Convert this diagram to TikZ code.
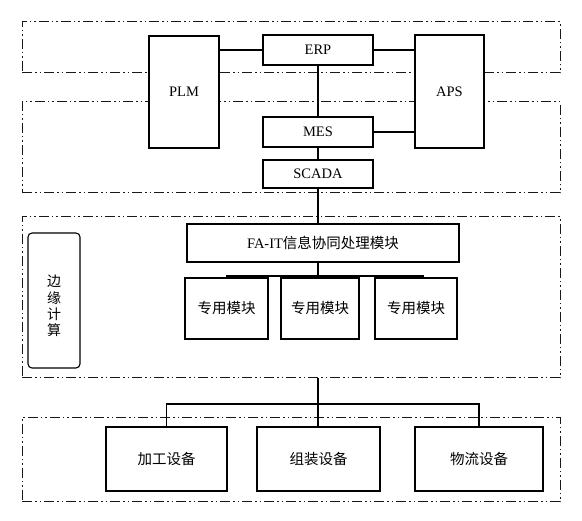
\documentclass[tikz,border=0pt]{standalone}
\usepackage{fontspec}
\setmainfont{Liberation Serif}
\newfontfamily\cjk{Noto Sans CJK SC}
\begin{document}
\begin{tikzpicture}[x=1pt,y=-1pt,
  box/.style={draw, line width=1.1pt, fill=white, inner sep=0pt, outer sep=0pt, font=\fontsize{14.5}{16}\selectfont},
  cn/.style={font=\cjk\fontsize{14.5}{16}\selectfont},
  zone/.style={draw=black!90, line width=1pt, inner sep=0pt, outer sep=0pt,
    dash pattern=on 10pt off 3pt on 1.5pt off 3pt on 1.5pt off 3pt},
  link/.style={draw, line width=1.1pt}]
\useasboundingbox (0,0) rectangle (582,521);
% zones
\node[zone, minimum width=538pt, minimum height=51pt] (z1) at (291,47.5) {};
\node[zone, minimum width=538pt, minimum height=91pt] (z2) at (291,147.5) {};
\node[zone, minimum width=538pt, minimum height=161pt] (z3) at (291,297.5) {};
\node[zone, minimum width=538pt, minimum height=84pt] (z4) at (291,460) {};
% top systems
\node[box, minimum width=70pt, minimum height=112pt] (plm) at (184,92) {PLM};
\node[box, minimum width=110pt, minimum height=30pt] (erp) at (318,50) {ERP};
\node[box, minimum width=69pt, minimum height=113pt] (aps) at (449.5,91.5) {APS};
\node[box, minimum width=110pt, minimum height=30pt] (mes) at (318,132) {MES};
\node[box, minimum width=110pt, minimum height=28pt] (scada) at (318,174) {SCADA};
% edge layer
\node[box, minimum width=272pt, minimum height=38pt] (fait) at (323,243) {FA-IT{\cjk 信息协同处理模块}};
\node[box, cn, minimum width=83pt, minimum height=61pt] (m1) at (226.5,308.5) {专用模块};
\node[box, cn, minimum width=78pt, minimum height=61pt] (m2) at (320,308.5) {专用模块};
\node[box, cn, minimum width=82pt, minimum height=61pt] (m3) at (416,308.5) {专用模块};
\node[box, rounded corners=4pt, minimum width=52pt, minimum height=135pt] (edge) at (54,300.5) {};
\node[font=\cjk\fontsize{14}{16.3}\selectfont, align=center, inner sep=0pt] (edgelbl) at (54,306) {边\\缘\\计\\算};
% devices
\node[box, cn, minimum width=121pt, minimum height=64pt] (d1) at (166.5,459) {加工设备};
\node[box, cn, minimum width=123pt, minimum height=64pt] (d2) at (318.5,459) {组装设备};
\node[box, cn, minimum width=128pt, minimum height=64pt] (d3) at (479,459) {物流设备};
% connectors
\draw[link] (erp.west) -- (erp.west -| plm.east);
\draw[link] (erp.east) -- (erp.east -| aps.west);
\draw[link] (erp.south) -- (mes.north);
\draw[link] (mes.east) -- (mes.east -| aps.west);
\draw[link] (mes.south) -- (scada.north);
\draw[link] (scada.south) -- (scada.south |- fait.north);
\coordinate (bus1) at (318,276);
\draw[link] (fait.south -| scada.south) -- (bus1);
\draw[link] (m1.north) -- (m1.north |- bus1) -- (423,276) -- (423,278);
\coordinate (z3b) at (z3.south -| scada.south);
\draw[link] (z3b) -- (z3b |- d2.north);
\coordinate (bus2) at (318,404);
\draw[link] (d1.north) -- (d1.north |- bus2) -- (d3.north |- bus2) -- (d3.north);
\end{tikzpicture}
\end{document}
